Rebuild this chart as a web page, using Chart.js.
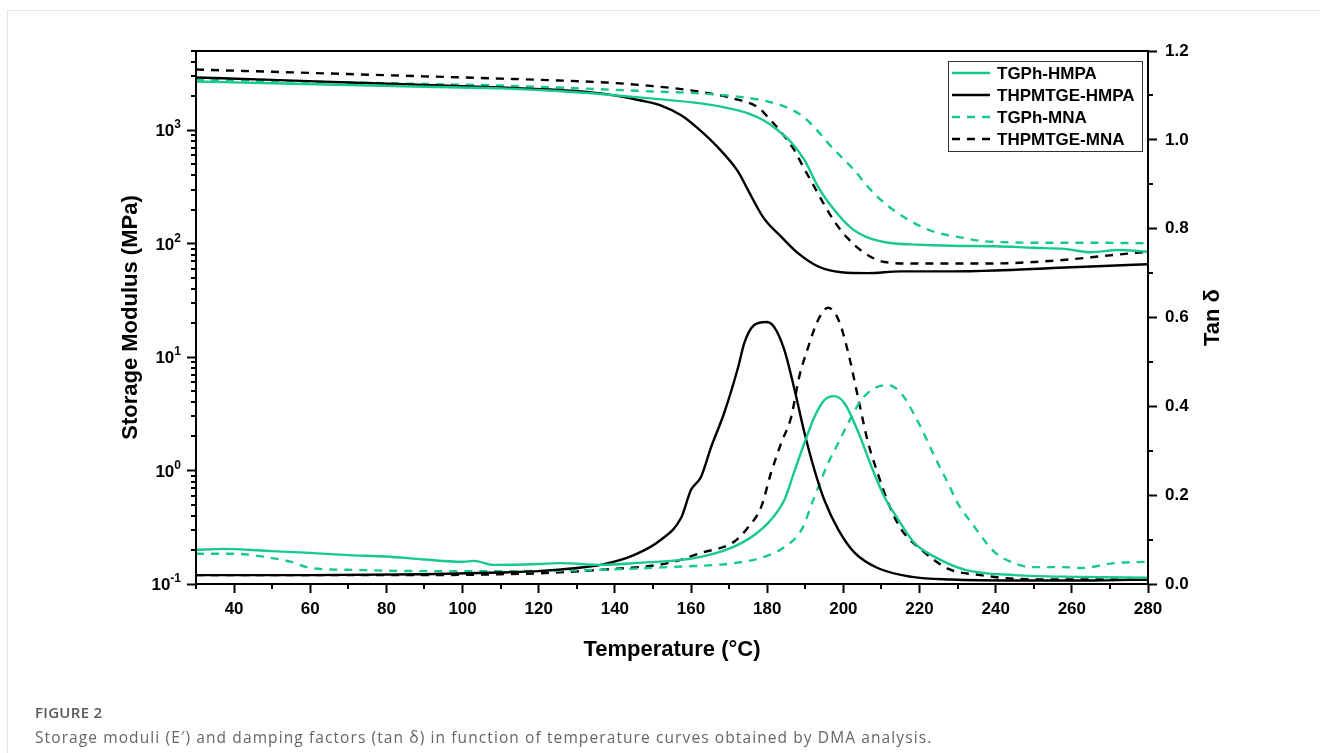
<!DOCTYPE html>
<html>
<head>
<meta charset="utf-8">
<script src="https://cdn.jsdelivr.net/npm/chart.js@4.4.1/dist/chart.umd.min.js"></script>
<style>
  html, body { margin: 0; padding: 0; background: #fff; }
  #wrap { position: relative; width: 1320px; height: 753px; overflow: hidden; }
  #frame { position: absolute; left: 7px; top: 10px; right: -2px; bottom: -2px; border-left: 1px solid #e3e3e3; border-top: 1px solid #e3e3e3; }
  canvas { position: absolute; left: 0; top: 0; }
  .cap { position: absolute; left: 35px; font-family: 'Open Sans', 'Noto Sans', sans-serif; white-space: nowrap; line-height: 20px; }
</style>
</head>
<body>
<div id="wrap">
  <div id="frame"></div>
  <canvas id="dma" width="1320" height="753"></canvas>
  <div class="cap" style="top:702px; font-size:15px; font-weight:600; letter-spacing:0.3px; color:#5a5a5a;">FIGURE 2</div>
  <div class="cap" style="top:727px; font-size:15.5px; letter-spacing:1.1px; color:#666;">Storage moduli (E′) and damping factors (tan δ) in function of temperature curves obtained by DMA analysis.</div>
</div>
<script>
// --- storage modulus E' (MPa) ---
const T_E_TGPH_HMPA = [30, 50, 70, 90, 110, 125, 137.6, 150, 162.6, 170, 175, 179, 182.8, 186.3, 189.8, 193.4, 197.6, 202, 206.5, 211.8, 220, 228.4, 240, 250, 258, 265, 272, 280];
const E_TGPH_HMPA = [2690, 2600, 2510, 2420, 2340, 2220, 2070, 1900, 1725, 1560, 1410, 1225, 1000, 785, 545, 316, 199, 138, 113, 102, 98, 96, 95, 92, 90, 84, 88, 85];

const T_E_THPM_HMPA = [30, 50, 70, 90, 110, 125, 136.3, 146.8, 152, 157.4, 161.8, 167, 172.4, 175, 179, 183.7, 188, 193.4, 199.5, 206.5, 215, 228, 240, 255, 270, 280];
const E_THPM_HMPA = [2920, 2780, 2640, 2510, 2380, 2270, 2115, 1830, 1660, 1355, 1040, 710, 430, 295, 170, 115, 83, 63, 56, 55, 57, 57, 58, 61, 64, 66];

const T_E_TGPH_MNA = [30, 50, 70, 90, 110, 125, 137.6, 150, 162.6, 174, 180, 183.7, 189, 192.4, 196, 199.5, 203, 206.5, 210.8, 218, 224, 230, 236, 243, 250, 265, 280];
const E_TGPH_MNA = [2800, 2720, 2640, 2560, 2480, 2380, 2290, 2200, 2110, 1950, 1800, 1660, 1355, 1062, 770, 580, 440, 316, 228, 156, 127, 115, 106, 103, 102, 102, 101];

const T_E_THPM_MNA = [30, 50, 70, 90, 110, 125, 137.6, 150, 160, 165, 171, 177.6, 180.5, 183.7, 186.8, 189.5, 192.4, 195, 198, 201, 205.5, 210.8, 217, 228, 240, 250, 260, 270, 280];
const E_THPM_MNA = [3430, 3280, 3130, 2990, 2855, 2750, 2640, 2450, 2250, 2110, 1910, 1590, 1270, 960, 695, 473, 316, 220, 151, 113, 83, 69, 67, 67, 67, 69, 73, 79, 85];

// --- tan delta ---
const T_D_TGPH_HMPA = [30, 37, 50, 60, 70, 80, 90, 100, 103, 108, 120, 126, 136.3, 145, 162.6, 173.2, 180.2, 184.5, 187, 189.8, 192.4, 195, 197.6, 200.3, 204, 207.4, 210.8, 214.5, 218.7, 224, 232, 245, 262.6, 280];
const D_TGPH_HMPA = [0.077, 0.079, 0.074, 0.070, 0.065, 0.062, 0.055, 0.050, 0.052, 0.043, 0.045, 0.047, 0.043, 0.047, 0.061, 0.092, 0.137, 0.189, 0.250, 0.318, 0.376, 0.414, 0.423, 0.407, 0.340, 0.264, 0.196, 0.144, 0.092, 0.061, 0.032, 0.020, 0.016, 0.014];

const T_D_THPM_HMPA = [30, 60, 90, 110, 120, 130, 136.3, 145, 152, 157.4, 160, 162.6, 165.3, 168.7, 172.4, 174, 176.6, 179.7, 181.8, 184.5, 187, 189.8, 192.4, 195, 198.7, 203, 209, 218, 228.4, 245, 265, 280];
const D_THPM_HMPA = [0.020, 0.020, 0.022, 0.026, 0.029, 0.036, 0.043, 0.065, 0.099, 0.149, 0.212, 0.241, 0.309, 0.385, 0.489, 0.543, 0.583, 0.590, 0.579, 0.527, 0.444, 0.340, 0.257, 0.189, 0.122, 0.070, 0.036, 0.016, 0.010, 0.008, 0.008, 0.010];

const T_D_TGPH_MNA = [30, 40, 48, 55, 60, 70, 90, 110, 136.3, 154, 171.3, 178.4, 184.5, 189, 192.4, 196, 198.7, 201.3, 204.7, 208.2, 211.8, 215.3, 218.7, 220.5, 224, 227.6, 230, 233.7, 239.7, 244, 249.5, 258, 262.6, 271, 280];
const D_TGPH_MNA = [0.068, 0.068, 0.061, 0.050, 0.036, 0.032, 0.029, 0.029, 0.032, 0.038, 0.047, 0.059, 0.083, 0.122, 0.196, 0.272, 0.318, 0.363, 0.414, 0.441, 0.448, 0.428, 0.380, 0.350, 0.286, 0.225, 0.182, 0.137, 0.072, 0.050, 0.038, 0.038, 0.036, 0.047, 0.050];

const T_D_THPM_MNA = [30, 60, 90, 110, 120, 136.3, 154, 162.6, 171.3, 175, 178.4, 181, 183.7, 186.3, 188.4, 190.8, 193.4, 196, 198.7, 201.3, 204, 206.5, 209, 211.8, 215.3, 220.5, 227.6, 236, 245, 260, 280];
const D_THPM_MNA = [0.020, 0.020, 0.020, 0.022, 0.024, 0.032, 0.047, 0.070, 0.095, 0.128, 0.173, 0.250, 0.318, 0.376, 0.466, 0.534, 0.595, 0.622, 0.595, 0.520, 0.414, 0.318, 0.250, 0.182, 0.122, 0.077, 0.034, 0.020, 0.012, 0.010, 0.010];

const SERIES_NAMES = ['TGPh-HMPA', 'THPMTGE-HMPA', 'TGPh-MNA', 'THPMTGE-MNA'];

// ticks
const X_MAJOR = [40, 60, 80, 100, 120, 140, 160, 180, 200, 220, 240, 260, 280];
const X_MINOR = [30, 50, 70, 90, 110, 130, 150, 170, 190, 210, 230, 250, 270];
const LEFT_MAJOR = [0.1, 1, 10, 100, 1000];
const RIGHT_MAJOR = [0, 0.2, 0.4, 0.6, 0.8, 1.0, 1.2];
const RIGHT_MINOR = [0.1, 0.3, 0.5, 0.7, 0.9, 1.1];

const GREEN = '#18c98e';
const BLACK = '#000000';
const DASH = [8, 7];
const TICK_FONT = { family: "'Liberation Sans', Arial, sans-serif", size: 17, weight: 'bold' };
const TITLE_FONT = { family: "'Liberation Sans', Arial, sans-serif", size: 22, weight: 'bold' };

function pts(xs, ys) {
    return xs.map((x, i) => ({ x: x, y: ys[i] }));
}

function line(label, xs, ys, color, dashed, axis) {
    return {
        label: label,
        data: pts(xs, ys),
        borderColor: color,
        borderWidth: 2.4,
        borderDash: dashed ? DASH : [],
        pointRadius: 0,
        fill: false,
        cubicInterpolationMode: 'monotone',
        yAxisID: axis
    };
}

const datasets = [
    line(SERIES_NAMES[0], T_E_TGPH_HMPA, E_TGPH_HMPA, GREEN, false, 'y'),
    line(SERIES_NAMES[1], T_E_THPM_HMPA, E_THPM_HMPA, BLACK, false, 'y'),
    line(SERIES_NAMES[2], T_E_TGPH_MNA, E_TGPH_MNA, GREEN, true, 'y'),
    line(SERIES_NAMES[3], T_E_THPM_MNA, E_THPM_MNA, BLACK, true, 'y'),
    line(SERIES_NAMES[0] + ' tan', T_D_TGPH_HMPA, D_TGPH_HMPA, GREEN, false, 'y2'),
    line(SERIES_NAMES[1] + ' tan', T_D_THPM_HMPA, D_THPM_HMPA, BLACK, false, 'y2'),
    line(SERIES_NAMES[2] + ' tan', T_D_TGPH_MNA, D_TGPH_MNA, GREEN, true, 'y2'),
    line(SERIES_NAMES[3] + ' tan', T_D_THPM_MNA, D_THPM_MNA, BLACK, true, 'y2')
];

// frame, minor ticks, log labels, right title, legend box
const decorations = {
    id: 'decorations',
    afterDraw(chart) {
        const ctx = chart.ctx;
        const a = chart.chartArea;
        const sx = chart.scales.x, sy = chart.scales.y, sr = chart.scales.y2;
        ctx.save();
        ctx.strokeStyle = '#000';
        ctx.lineWidth = 2;
        ctx.strokeRect(a.left, a.top, a.right - a.left, a.bottom - a.top);

        // minor ticks
        ctx.beginPath();
        X_MINOR.forEach(v => {
            const p = Math.round(sx.getPixelForValue(v));
            ctx.moveTo(p, a.bottom); ctx.lineTo(p, a.bottom + 5);
        });
        RIGHT_MINOR.forEach(v => {
            const p = Math.round(sr.getPixelForValue(v));
            ctx.moveTo(a.right, p); ctx.lineTo(a.right + 5, p);
        });
        LEFT_MAJOR.forEach(d => {
            for (let k = 2; k <= 9; k++) {
                const v = d * k;
                if (v > sy.max) break;
                const p = Math.round(sy.getPixelForValue(v));
                ctx.moveTo(a.left, p); ctx.lineTo(a.left - 5, p);
            }
        });
        ctx.stroke();

        // log labels 10^n
        ctx.fillStyle = '#000';
        LEFT_MAJOR.forEach(v => {
            const p = sy.getPixelForValue(v);
            const exp = String(Math.round(Math.log10(v)));
            ctx.font = "bold 12px 'Liberation Sans', Arial, sans-serif";
            const ew = ctx.measureText(exp).width;
            ctx.textAlign = 'right';
            ctx.textBaseline = 'alphabetic';
            ctx.fillText(exp, a.left - 15, p - 2);
            ctx.font = "bold 17px 'Liberation Sans', Arial, sans-serif";
            ctx.fillText('10', a.left - 15 - ew, p + 6);
        });

        // right title, read bottom to top
        ctx.save();
        ctx.translate(1213, (a.top + a.bottom) / 2);
        ctx.rotate(-Math.PI / 2);
        ctx.font = "bold 22px 'Liberation Sans', Arial, sans-serif";
        ctx.textAlign = 'center';
        ctx.textBaseline = 'middle';
        ctx.fillText('Tan δ', 0, 0);
        ctx.restore();

        // legend
        const bx = a.right - 200, by = a.top + 10, bw = 194, bh = 90;
        ctx.lineWidth = 1;
        ctx.strokeStyle = '#333';
        ctx.strokeRect(bx + 0.5, by + 0.5, bw, bh);
        ctx.font = "bold 17px 'Liberation Sans', Arial, sans-serif";
        ctx.textAlign = 'left';
        ctx.textBaseline = 'middle';
        for (let i = 0; i < 4; i++) {
            const ds = chart.data.datasets[i];
            const yy = by + 12 + i * 22;
            ctx.beginPath();
            ctx.setLineDash(ds.borderDash);
            ctx.strokeStyle = ds.borderColor;
            ctx.lineWidth = 2.4;
            ctx.moveTo(bx + 4, yy); ctx.lineTo(bx + 42, yy);
            ctx.stroke();
            ctx.setLineDash([]);
            ctx.fillStyle = '#000';
            ctx.fillText(ds.label, bx + 49, yy + 1);
        }
        ctx.restore();
    }
};

new Chart(document.getElementById('dma'), {
    type: 'line',
    data: { datasets: datasets },
    options: {
        responsive: false,
        animation: false,
        devicePixelRatio: 1,
        layout: { padding: { top: 51, left: 0, right: 0, bottom: 0 } },
        plugins: { legend: { display: false }, tooltip: { enabled: false } },
        scales: {
            x: {
                type: 'linear',
                min: 30,
                max: 280,
                afterBuildTicks: s => { s.ticks = X_MAJOR.map(v => ({ value: v })); },
                afterFit: s => { s.height = 169; },
                ticks: { font: TICK_FONT, color: '#000', padding: 6, maxRotation: 0, autoSkip: false },
                grid: { drawOnChartArea: false, tickLength: 9, tickWidth: 2, tickColor: '#000' },
                border: { display: false },
                title: { display: true, text: 'Temperature (°C)', font: TITLE_FONT, color: '#000', padding: { top: 0, bottom: 90 } }
            },
            y: {
                type: 'logarithmic',
                position: 'left',
                min: 0.1,
                max: 5000,
                afterBuildTicks: s => { s.ticks = LEFT_MAJOR.map(v => ({ value: v })); },
                afterFit: s => { s.width = 196; },
                ticks: { callback: () => '', font: TICK_FONT },
                grid: { drawOnChartArea: false, tickLength: 9, tickWidth: 2, tickColor: '#000' },
                border: { display: false },
                title: { display: true, text: 'Storage Modulus (MPa)', font: TITLE_FONT, color: '#000', padding: { top: 118, bottom: 0 } }
            },
            y2: {
                type: 'linear',
                position: 'right',
                min: 0,
                max: 1.2,
                afterBuildTicks: s => { s.ticks = RIGHT_MAJOR.map(v => ({ value: v })); },
                afterFit: s => { s.width = 172; },
                ticks: { font: TICK_FONT, color: '#000', padding: 8, callback: v => v.toFixed(1) },
                grid: { drawOnChartArea: false, tickLength: 9, tickWidth: 2, tickColor: '#000' },
                border: { display: false }
            }
        }
    },
    plugins: [decorations]
});
</script>
</body>
</html>
